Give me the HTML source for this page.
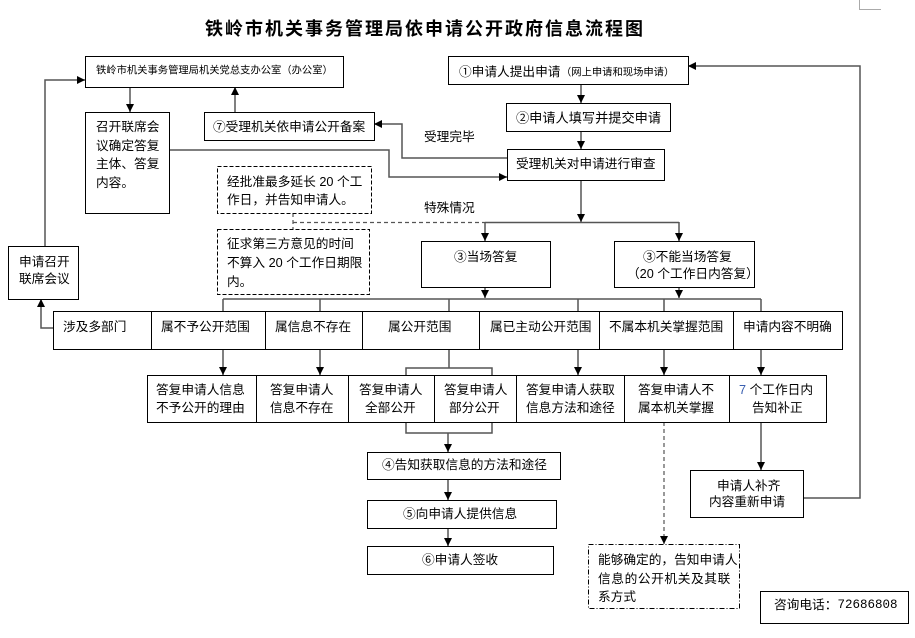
<!DOCTYPE html>
<html>
<head>
<meta charset="utf-8">
<style>
html,body{margin:0;padding:0;background:#fff;}
svg{display:block;}
text{font-family:"Liberation Sans","Noto Sans CJK SC",sans-serif;font-size:12.7px;fill:#000;dominant-baseline:central;}
.sm{font-size:10.3px;}
.t{font-size:18px;letter-spacing:2px;font-weight:bold;}
.b{fill:#fff;stroke:#000;stroke-width:1;}
.d{fill:#fff;stroke:#000;stroke-width:1;stroke-dasharray:4 2;}
.dd{fill:#fff;stroke:#000;stroke-width:1;stroke-dasharray:5 2 1 2;}
.c{fill:none;stroke:#555;stroke-width:1.5;}
.cd{fill:none;stroke:#555;stroke-width:1.2;stroke-dasharray:4 3;}
</style>
</head>
<body>
<svg width="915" height="638" viewBox="0 0 915 638" xmlns="http://www.w3.org/2000/svg">
<defs>
<marker id="ar" markerUnits="userSpaceOnUse" markerWidth="8" markerHeight="8" refX="8" refY="4" orient="auto">
<path d="M0,0 L8,4 L0,8 z" fill="#000"/>
</marker>
</defs>

<!-- corner mark -->
<path d="M859.5,0 V9.5 H881" fill="none" stroke="#aaa" stroke-width="1"/>

<!-- title -->
<text x="205" y="29" class="t">铁岭市机关事务管理局依申请公开政府信息流程图</text>

<!-- connectors -->
<path class="c" d="M130,87 V112" marker-end="url(#ar)"/>
<path class="c" d="M235,112 V87" marker-end="url(#ar)"/>
<path class="c" d="M169,150 H389 V177 H507" marker-end="url(#ar)"/>
<path class="c" d="M507,158 H402 V124 H374" marker-end="url(#ar)"/>
<path class="c" d="M581,84 V103" marker-end="url(#ar)"/>
<path class="c" d="M581,131 V149" marker-end="url(#ar)"/>
<path class="c" d="M581,180 V222" marker-end="url(#ar)"/>
<path class="c" d="M485,222.5 H679"/>
<path class="c" d="M485,222 V241" marker-end="url(#ar)"/>
<path class="c" d="M679,222 V241" marker-end="url(#ar)"/>
<path class="cd" d="M293,222.5 H485"/>
<path class="cd" d="M293,213 V229"/>
<path class="c" d="M485,287 V298" marker-end="url(#ar)"/>
<path class="c" d="M679,287 V298" marker-end="url(#ar)"/>
<path class="c" d="M223,299 H761"/>
<path class="c" d="M223,299 V311 M320,299 V311 M449,299 V311 M578,299 V311 M664,299 V311 M761,299 V311"/>
<path class="c" d="M223,349 V375" marker-end="url(#ar)"/>
<path class="c" d="M320,349 V375" marker-end="url(#ar)"/>
<path class="c" d="M578,349 V375" marker-end="url(#ar)"/>
<path class="c" d="M664,349 V375" marker-end="url(#ar)"/>
<path class="c" d="M761,349 V375" marker-end="url(#ar)"/>
<path class="c" d="M449,349 V368 M406,375 V368 H492 V375"/>
<path class="c" d="M406,422 V433 H492 V422"/>
<path class="c" d="M448,433 V452" marker-end="url(#ar)"/>
<path class="c" d="M448,479 V500" marker-end="url(#ar)"/>
<path class="c" d="M448,528 V546" marker-end="url(#ar)"/>
<path class="cd" d="M664,422 V544" marker-end="url(#ar)"/>
<path class="c" d="M761,422 V470" marker-end="url(#ar)"/>
<path class="c" d="M803,498 H860 V66 H688" marker-end="url(#ar)"/>
<path class="c" d="M53,328 H41 V299" marker-end="url(#ar)"/>
<path class="c" d="M45,246 V80 H85" marker-end="url(#ar)"/>

<!-- boxes -->
<rect class="b" x="85.5" y="56.5" width="258" height="31"/>
<rect class="b" x="85.5" y="112.5" width="84" height="101"/>
<rect class="b" x="204.5" y="112.5" width="170" height="28"/>
<rect class="b" x="448.5" y="56.5" width="240" height="28"/>
<rect class="b" x="506.5" y="103.5" width="164" height="28"/>
<rect class="b" x="507.5" y="149.5" width="157" height="31"/>
<rect class="b" x="421.5" y="241.5" width="129" height="46"/>
<rect class="b" x="614.5" y="241.5" width="140" height="46"/>
<rect class="d" x="217.5" y="166.5" width="154" height="47"/>
<rect class="d" x="217.5" y="229.5" width="152" height="65"/>
<rect class="b" x="8.5" y="246.5" width="70" height="53"/>
<rect class="b" x="53.5" y="311.5" width="789" height="38"/>
<path d="M151.5,311 V349 M265.5,311 V349 M362.5,311 V349 M479.5,311 V349 M599.5,311 V349 M733.5,311 V349" stroke="#000" stroke-width="1"/>
<rect class="b" x="147.5" y="375.5" width="679" height="47"/>
<path d="M256.5,375 V422 M348.5,375 V422 M434.5,375 V422 M516.5,375 V422 M624.5,375 V422 M729.5,375 V422" stroke="#000" stroke-width="1"/>
<rect class="b" x="367.5" y="452.5" width="193" height="27"/>
<rect class="b" x="367.5" y="500.5" width="189" height="28"/>
<rect class="b" x="367.5" y="546.5" width="186" height="28"/>
<rect class="dd" x="588.5" y="544.5" width="151" height="64"/>
<rect class="b" x="690.5" y="470.5" width="113" height="47"/>
<rect class="b" x="760.5" y="591.5" width="148" height="32"/>

<!-- texts -->
<text x="96" y="71" class="sm">铁岭市机关事务管理局机关党总支办公室（办公室）</text>
<text x="96" y="127">召开联席会</text>
<text x="96" y="146">议确定答复</text>
<text x="96" y="164">主体、答复</text>
<text x="96" y="183">内容。</text>
<text x="213" y="127">⑦受理机关依申请公开备案</text>
<text x="424" y="137">受理完毕</text>
<text x="459" y="72">①申请人提出申请</text>
<text x="561" y="73" class="sm">（网上申请和现场申请）</text>
<text x="516" y="118" style="font-size:13.2px">②申请人填写并提交申请</text>
<text x="516" y="164">受理机关对申请进行审查</text>
<text x="424" y="208">特殊情况</text>
<text x="227" y="182">经批准最多延长 20 个工</text>
<text x="227" y="200">作日，并告知申请人。</text>
<text x="227" y="244">征求第三方意见的时间</text>
<text x="227" y="263">不算入 20 个工作日期限</text>
<text x="227" y="282">内。</text>
<text x="19" y="262">申请召开</text>
<text x="19" y="279">联席会议</text>
<text x="454" y="257">③当场答复</text>
<text x="643" y="257">③不能当场答复</text>
<text x="627" y="274">（20 个工作日内答复）</text>

<text x="63" y="327">涉及多部门</text>
<text x="161" y="327">属不予公开范围</text>
<text x="275" y="327">属信息不存在</text>
<text x="388" y="327">属公开范围</text>
<text x="490" y="327">属已主动公开范围</text>
<text x="609" y="327">不属本机关掌握范围</text>
<text x="743" y="327">申请内容不明确</text>

<text x="156" y="390">答复申请人信息</text>
<text x="156" y="408">不予公开的理由</text>
<text x="270" y="390">答复申请人</text>
<text x="270" y="408">信息不存在</text>
<text x="359" y="390">答复申请人</text>
<text x="365" y="408">全部公开</text>
<text x="444" y="390">答复申请人</text>
<text x="449" y="408">部分公开</text>
<text x="526" y="390">答复申请人获取</text>
<text x="526" y="408">信息方法和途径</text>
<text x="638" y="390">答复申请人不</text>
<text x="638" y="408">属本机关掌握</text>
<text x="739" y="390"><tspan fill="#3a5fb0">7</tspan> 个工作日内</text>
<text x="752" y="408">告知补正</text>

<text x="382" y="465">④告知获取信息的方法和途径</text>
<text x="403" y="514">⑤向申请人提供信息</text>
<text x="422" y="560">⑥申请人签收</text>

<text x="598" y="560">能够确定的，告知申请人</text>
<text x="598" y="579" style="letter-spacing:0.6px">信息的公开机关及其联</text>
<text x="598" y="597">系方式</text>

<text x="717" y="486">申请人补齐</text>
<text x="709" y="502">内容重新申请</text>

<text x="774" y="605">咨询电话：<tspan style="font-family:'Liberation Mono',monospace;font-size:12.5px">72686808</tspan></text>
</svg>
</body>
</html>
